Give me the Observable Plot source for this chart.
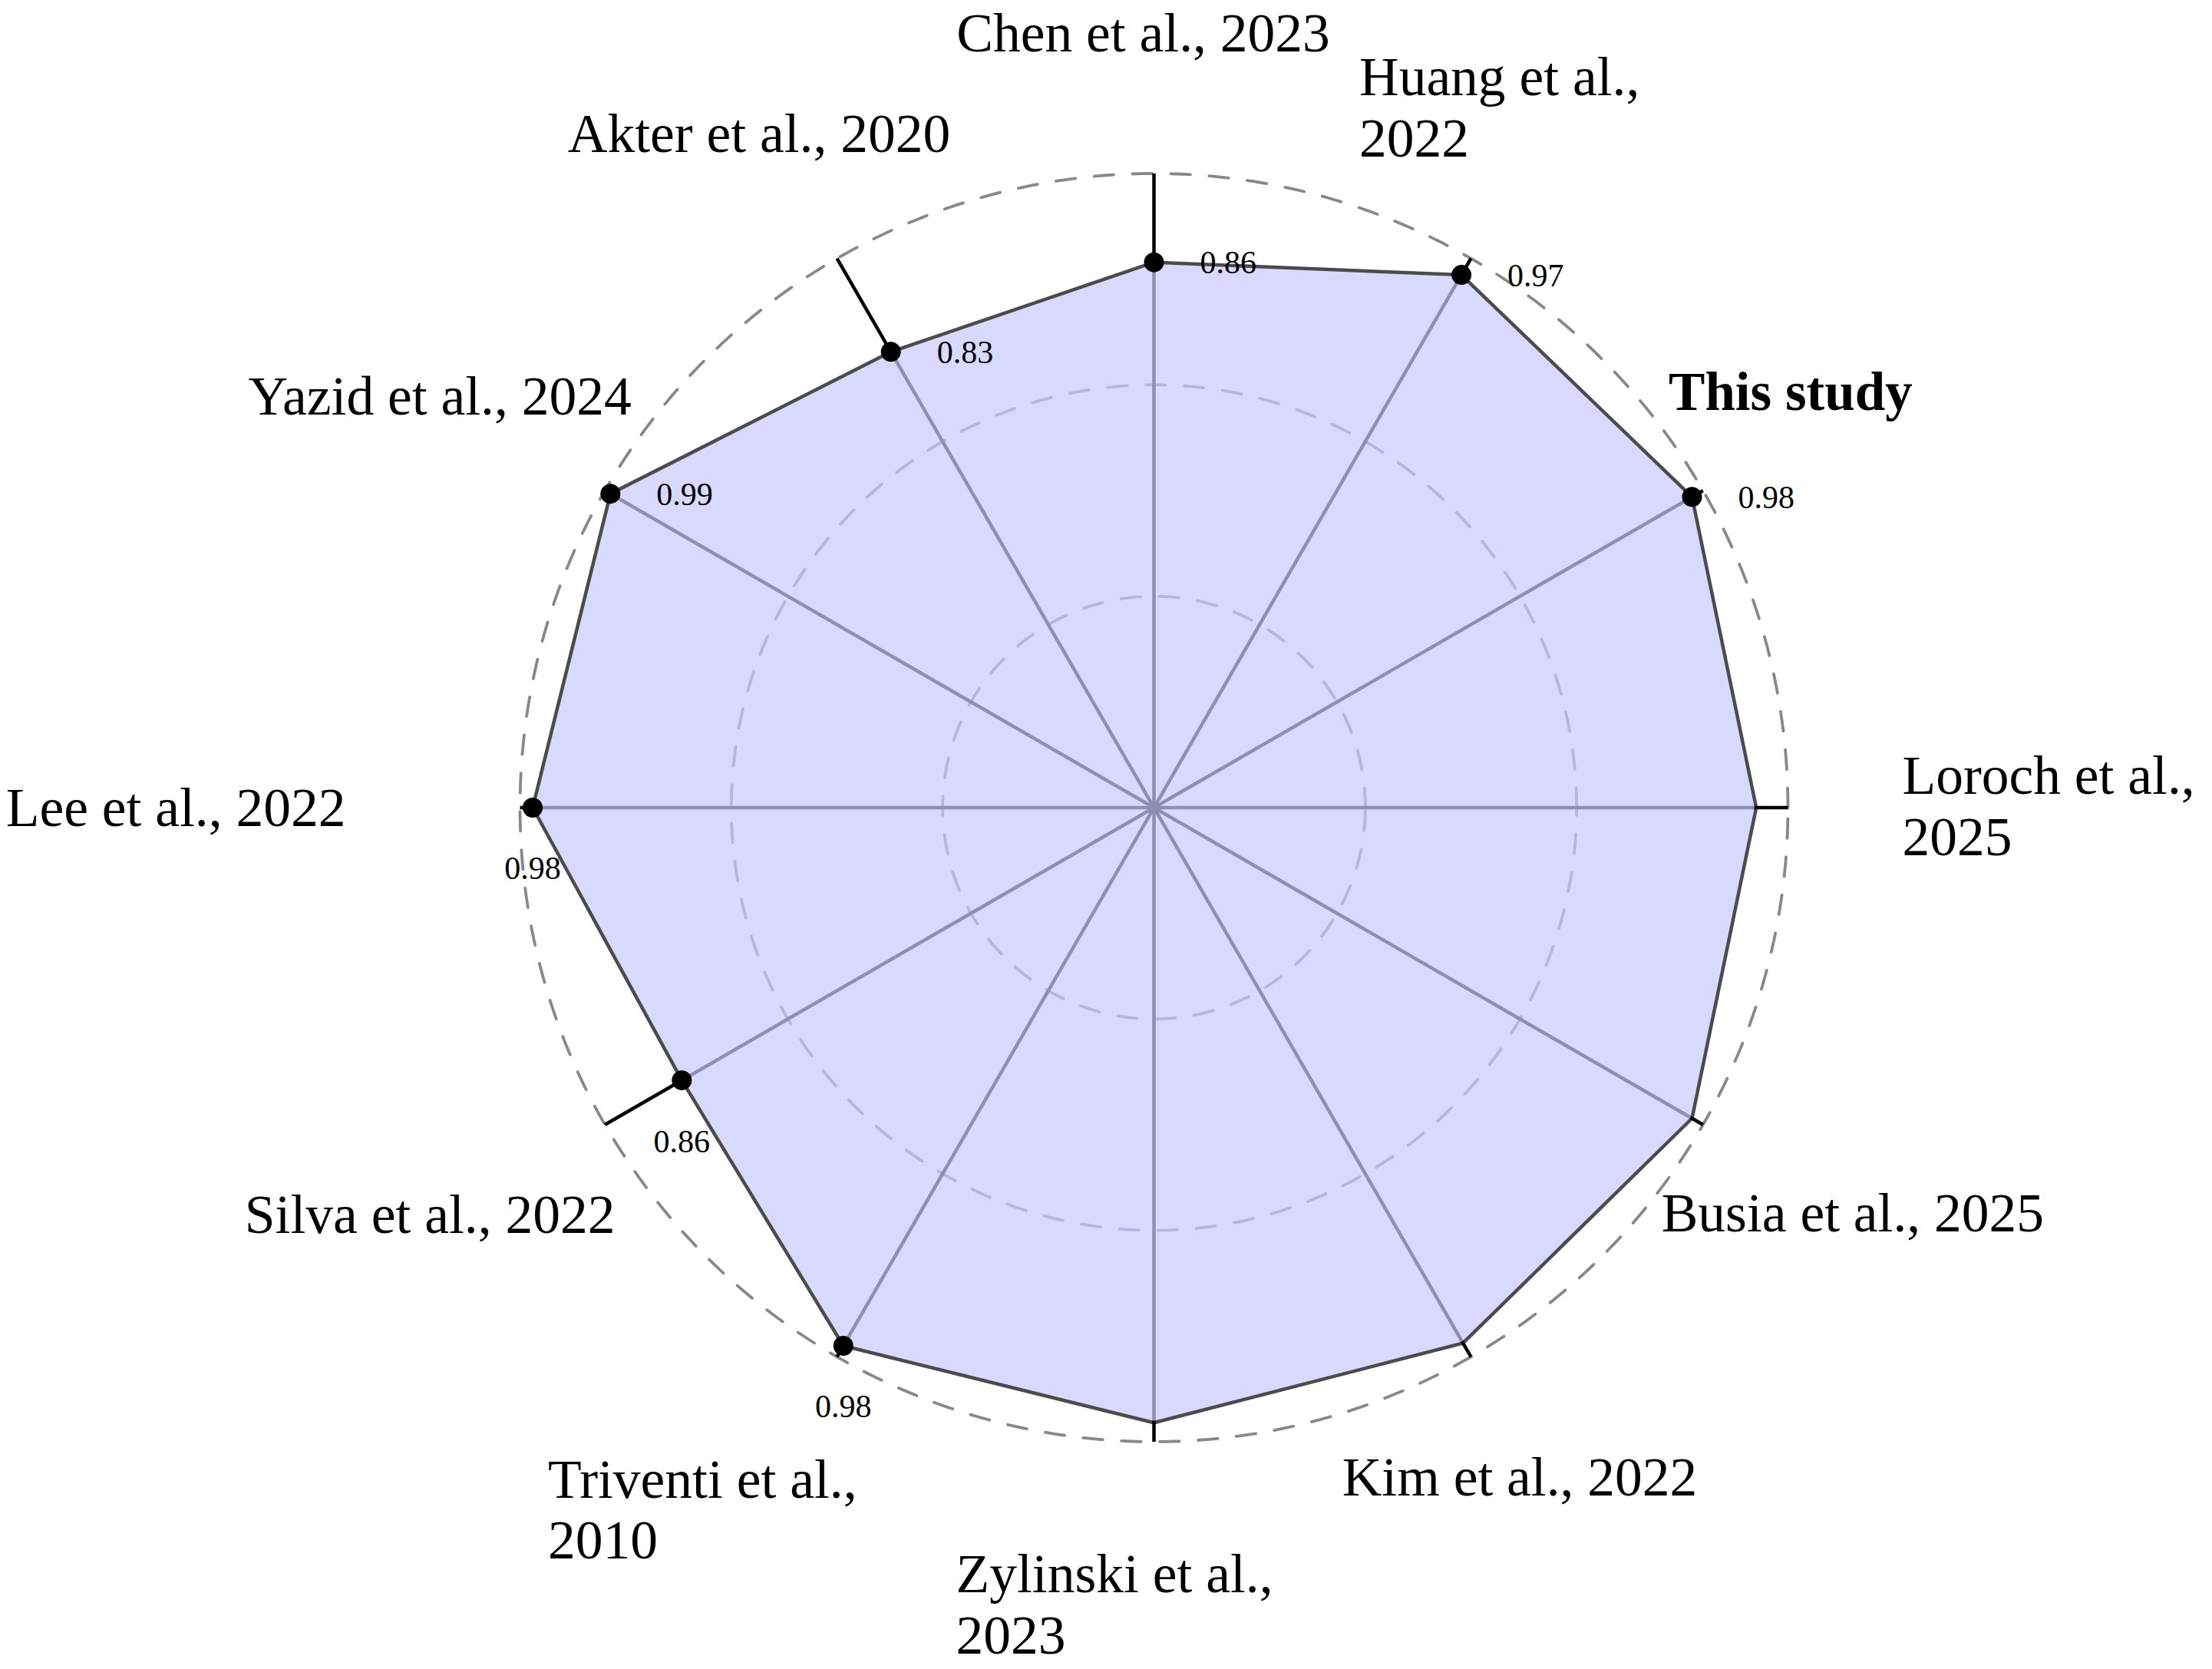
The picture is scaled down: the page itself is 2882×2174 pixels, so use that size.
<!DOCTYPE html>
<html>
<head>
<meta charset="utf-8">
<script src="https://cdn.jsdelivr.net/npm/d3@7"></script>
<script src="https://cdn.jsdelivr.net/npm/@observablehq/plot@0.6"></script>
<style>
  html, body { margin: 0; padding: 0; background: #ffffff; overflow: hidden; }
  #chart svg { display: block; }
</style>
</head>
<body>
<div id="chart"></div>
<script>
// ---------- data ----------
// axes in counter-clockwise order, starting at 3 o'clock
const studies = [
  "Loroch et al.,\n2025",
  "This study",
  "Huang et al.,\n2022",
  "Chen et al., 2023",
  "Akter et al., 2020",
  "Yazid et al., 2024",
  "Lee et al., 2022",
  "Silva et al., 2022",
  "Triventi et al.,\n2010",
  "Zylinski et al.,\n2023",
  "Kim et al., 2022",
  "Busia et al., 2025"
];
const scores = [0.95, 0.98, 0.97, 0.86, 0.83, 0.99, 0.98, 0.86, 0.98, 0.97, 0.975, 0.98];
const annotated = [false, true, true, true, true, true, true, true, true, false, false, false];
const valueLabels = ["", "0.98", "0.97", "0.86", "0.83", "0.99", "0.98", "0.86", "0.98", "", "", ""];
const gridLevels = [1 / 3, 2 / 3, 1];

// ---------- layout ----------
const W = 2882, H = 2174;
const CX = 1503, CY = 1051.5, R = 826;
const labelR = 975 / R;
const fontFamily = "'Liberation Serif', 'DejaVu Serif', serif";
// per-label text alignment and pixel nudges from the angular anchor point
const labelLayout = [
  {anchor: "start",  dx: 0,    dy: 61.5},
  {anchor: "middle", dx: -15,  dy: -31, bold: true},
  {anchor: "start",  dx: -220, dy: -4},
  {anchor: "middle", dx: -14,  dy: -10.5},
  {anchor: "middle", dx: -27,  dy: -10},
  {anchor: "middle", dx: -86,  dy: -25},
  {anchor: "end",    dx: -78,  dy: 23.5},
  {anchor: "middle", dx: -99,  dy: 66},
  {anchor: "start",  dx: -302, dy: 134},
  {anchor: "start",  dx: -258, dy: 126.5},
  {anchor: "middle", dx: -11,  dy: 52},
  {anchor: "middle", dx: 66,   dy: 64}
];

// ---------- derived ----------
const n = studies.length;
const axes = studies.map((s, i) => {
  const a = (i * 2 * Math.PI) / n;
  return {
    study: s, i, angle: a, value: scores[i], annotated: annotated[i], valueLabel: valueLabels[i],
    cos: Math.cos(a), sin: Math.sin(a),
    px: scores[i] * Math.cos(a), py: scores[i] * Math.sin(a)
  };
});

const circles = gridLevels.flatMap(g =>
  d3.range(0, 361, 1).map(t => ({
    level: g,
    x: g * Math.cos((t * Math.PI) / 180),
    y: g * Math.sin((t * Math.PI) / 180)
  }))
);

const labelMarks = axes.map((d, i) => {
  const L = labelLayout[i];
  const lab = {
    text: d.study,
    x: labelR * d.cos + L.dx / R,
    y: labelR * d.sin - L.dy / R
  };
  return Plot.text([lab], {
    x: "x", y: "y", text: "text",
    textAnchor: L.anchor,
    lineAnchor: "bottom",
    lineHeight: 1.11,
    fontSize: L.bold ? 71 : 71.5,
    fontWeight: L.bold ? "bold" : "normal",
    fontFamily,
    fill: "black"
  });
});

const dotted = axes.filter(d => d.annotated);
const upper = dotted.filter(d => d.sin > 0.01);
const lower = dotted.filter(d => d.sin <= 0.01);

const chart = Plot.plot({
  width: W,
  height: H,
  margin: 0,
  style: {background: "white", fontFamily},
  x: {type: "linear", domain: [(0 - CX) / R, (W - CX) / R], range: [0, W], axis: null},
  y: {type: "linear", domain: [(CY - H) / R, CY / R], range: [H, 0], axis: null},
  marks: [
    Plot.line(circles, {
      x: "x", y: "y", z: "level",
      stroke: "#888888", strokeWidth: 3.8,
      strokeDasharray: "25.5,24.5"
    }),
    Plot.link(axes, {
      x1: () => 0, y1: () => 0, x2: "cos", y2: "sin",
      stroke: "black", strokeWidth: 4.5
    }),
    Plot.line(axes, {
      x: "px", y: "py",
      curve: "linear-closed",
      fill: "rgb(202,202,255)",
      stroke: "black",
      strokeWidth: 4.5,
      strokeLinejoin: "miter",
      opacity: 0.7
    }),
    Plot.dot(dotted, {x: "px", y: "py", r: 13, fill: "black", stroke: "none"}),
    Plot.text(upper, {
      x: "px", y: "py", text: "valueLabel",
      textAnchor: "start", lineAnchor: "middle",
      dx: 60, dy: 1, fontSize: 42, fontFamily, fill: "black"
    }),
    Plot.text(lower, {
      x: "px", y: "py", text: "valueLabel",
      textAnchor: "middle", lineAnchor: "middle",
      dy: 80, fontSize: 42, fontFamily, fill: "black"
    }),
    ...labelMarks
  ]
});

document.getElementById("chart").appendChild(chart);
</script>
</body>
</html>
